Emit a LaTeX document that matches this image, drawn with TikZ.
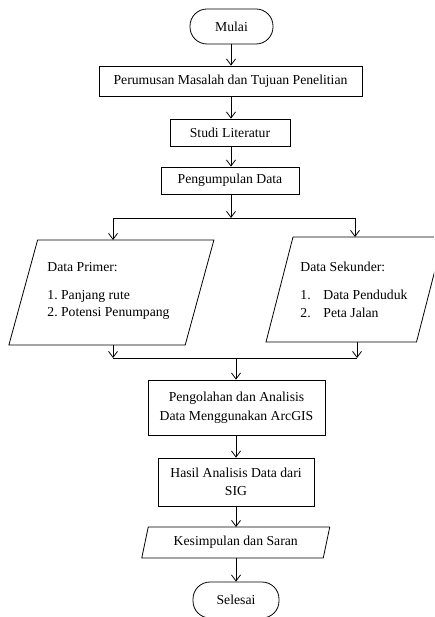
\documentclass[tikz,border=0pt]{standalone}
\usepackage{fontspec}
\setmainfont{Liberation Serif}
\usetikzlibrary{arrows.meta,calc}
\frenchspacing
\begin{document}
\begin{tikzpicture}[x=1pt,y=-1pt,
  font=\fontsize{13.7}{18.5}\selectfont,
  line width=0.8pt,
  arr/.style={-{Straight Barb[length=6pt,width=9pt]}},
  box/.style={draw, rectangle, inner sep=0pt, align=center},
  term/.style={draw, rectangle, rounded corners=17pt, inner sep=0pt},
  hold/.style={inner sep=0pt, outer sep=0pt},
  txt/.style={inner sep=0pt, anchor=west}
]
\useasboundingbox (0,0) rectangle (434,617);
\clip (0,0) rectangle (434,617);

% terminals and boxes
\node[term, minimum width=83pt, minimum height=35pt] (mulai) at (231.5,26.5) {Mulai};
\node[box, minimum width=263pt, minimum height=30pt] (rumus) at (230.5,81) {Perumusan Masalah dan Tujuan Penelitian};
\node[box, minimum width=120pt, minimum height=27pt] (studi) at (230,132.5) {Studi Literatur};
\node[box, minimum width=138pt, minimum height=27pt] (kumpul) at (230,180.5) {Pengumpulan Data};

% parallelogram holders
\node[hold, minimum width=176.3pt, minimum height=105pt] (primer) at (111.4,292.5) {};
\draw ($(primer.north west)+(14.35,0)$) -- ($(primer.north east)+(14.35,0)$)
   -- ($(primer.south east)+(-14.35,0)$) -- ($(primer.south west)+(-14.35,0)$) -- cycle;
\node[hold, minimum width=150.5pt, minimum height=105pt] (sekunder) at (354.75,289.5) {};
\draw ($(sekunder.north west)+(13.5,0)$) -- ($(sekunder.north east)+(13.5,0)$)
   -- ($(sekunder.south east)+(-13.5,0)$) -- ($(sekunder.south west)+(-13.5,0)$) -- cycle;

% texts in parallelograms
\node[txt] (p0) at (47,267) {Data Primer:};
\node[txt] (p1) at (47,296) {1.\ Panjang rute};
\node[txt] (p2) at (47,313) {2.\ Potensi Penumpang};
\node[txt] (s0) at (300,267) {Data Sekunder:};
\node[txt] (s1n) at (300,295) {1.};
\node[txt] (s1) at (323,295) {Data Penduduk};
\node[txt] (s2n) at (300,313) {2.};
\node[txt] (s2) at (323,313) {Peta Jalan};

\node[box, minimum width=177pt, minimum height=55pt] (olah) at (236.5,407.5) {Pengolahan dan Analisis\\Data Menggunakan ArcGIS};
\node[box, minimum width=156pt, minimum height=48pt] (hasil) at (236,482) {Hasil Analisis Data dari\\SIG};

\node[hold, minimum width=181.5pt, minimum height=31pt] (simpul) at (235.75,542.5) {Kesimpulan dan Saran};
\draw ($(simpul.north west)+(3.25,0)$) -- ($(simpul.north east)+(3.25,0)$)
   -- ($(simpul.south east)+(-3.25,0)$) -- ($(simpul.south west)+(-3.25,0)$) -- cycle;

\node[term, minimum width=86pt, minimum height=36pt] (selesai) at (236,600) {Selesai};

% junction coordinates
\coordinate (j1) at (231,218);
\coordinate (j1l) at (113,218);
\coordinate (j1r) at (355,218);
\coordinate (j2) at (236,358);
\coordinate (j2l) at (113,358);
\coordinate (j2r) at (357,358);

% connectors
\draw[arr] (mulai.south -| 231,0) -- (rumus.north -| 231,0);
\draw[arr] (rumus.south -| 231,0) -- (studi.north -| 231,0);
\draw[arr] (studi.south -| 231,0) -- (kumpul.north -| 231,0);
\draw[arr] (kumpul.south -| j1) -- (j1);
\draw (j1l) -- (j1r);
\draw[arr] (j1l) -- (primer.north -| j1l);
\draw[arr] (j1r) -- (sekunder.north -| j1r);
\draw[arr] (primer.south -| j2l) -- (j2l);
\draw[arr] (sekunder.south -| j2r) -- (j2r);
\draw (j2l) -- (j2r);
\draw[arr] (j2) -- (olah.north -| j2);
\draw[arr] (olah.south -| j2) -- (hasil.north -| j2);
\draw[arr] (hasil.south -| j2) -- (simpul.north -| j2);
\draw[arr] (simpul.south -| j2) -- (selesai.north -| j2);
\end{tikzpicture}
\end{document}
